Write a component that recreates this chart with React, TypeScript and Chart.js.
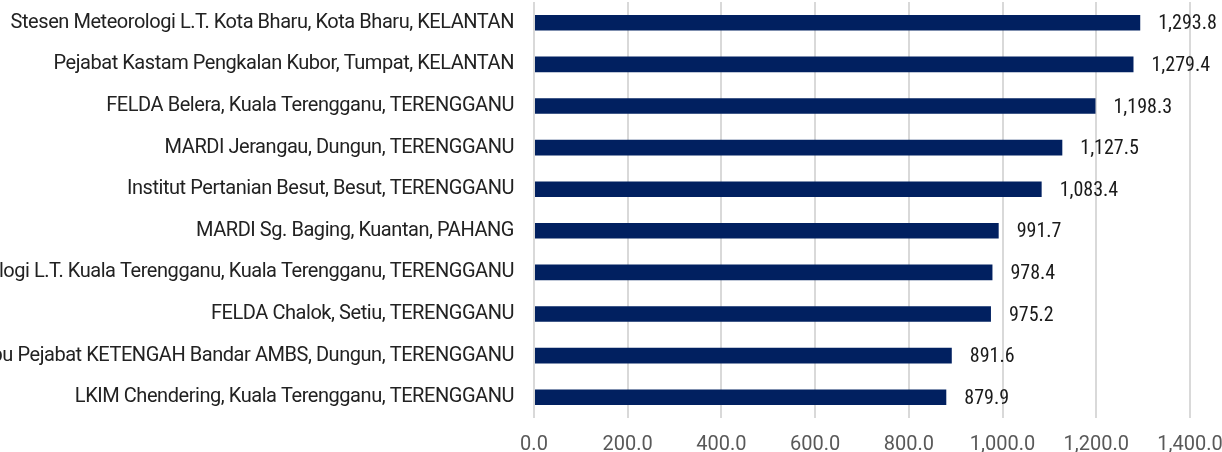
import React, { useEffect, useRef } from "react";
import { Chart, registerables } from "chart.js";

Chart.register(...registerables);

const stations: string[] = [
  "Stesen Meteorologi L.T. Kota Bharu, Kota Bharu, KELANTAN",
  "Pejabat Kastam Pengkalan Kubor, Tumpat, KELANTAN",
  "FELDA Belera, Kuala Terengganu, TERENGGANU",
  "MARDI Jerangau, Dungun, TERENGGANU",
  "Institut Pertanian Besut, Besut, TERENGGANU",
  "MARDI Sg. Baging, Kuantan, PAHANG",
  "Stesen Meteorologi L.T. Kuala Terengganu, Kuala Terengganu, TERENGGANU",
  "FELDA Chalok, Setiu, TERENGGANU",
  "Ibu Pejabat KETENGAH Bandar AMBS, Dungun, TERENGGANU",
  "LKIM Chendering, Kuala Terengganu, TERENGGANU",
];

const rainfall: number[] = [1293.8, 1279.4, 1198.3, 1127.5, 1083.4, 991.7, 978.4, 975.2, 891.6, 879.9];

const xTickValues: number[] = [0, 200, 400, 600, 800, 1000, 1200, 1400];

const FONT_FAMILY = "Roboto, sans-serif";
const STRETCH = "semi-condensed";

const fmt = (v: number) =>
  v.toLocaleString("en-US", { minimumFractionDigits: 1, maximumFractionDigits: 1 });

const valueLabels = {
  id: "valueLabels",
  afterLayout(chart: any) {
    const y = chart.scales.y;
    if (y && !y.__wrapped) {
      const orig = y.drawLabels.bind(y);
      y.drawLabels = (area: any) => {
        const ctx = chart.ctx;
        ctx.save();
        ctx.letterSpacing = "-0.45px";
        orig(area);
        ctx.restore();
      };
      y.__wrapped = true;
    }
  },
  afterDatasetsDraw(chart: any) {
    const ctx = chart.ctx;
    const meta = chart.getDatasetMeta(0);
    ctx.save();
    ctx.font = `${STRETCH} 20px ${FONT_FAMILY}`;
    ctx.fillStyle = "#1a1a1a";
    ctx.textAlign = "left";
    ctx.textBaseline = "middle";
    meta.data.forEach((bar: any, i: number) => {
      ctx.fillText(fmt(rainfall[i]), bar.x + 18, bar.y + 1.5);
    });
    ctx.restore();
  },
};

export default function App() {
  const ref = useRef<HTMLCanvasElement | null>(null);
  useEffect(() => {
    if (!ref.current) return;
    const chart = new Chart(ref.current, {
      type: "bar",
      data: {
        labels: stations,
        datasets: [
          {
            data: rainfall,
            backgroundColor: "#012060",
            borderWidth: 0,
            barPercentage: 0.375,
            categoryPercentage: 1,
          },
        ],
      },
      options: {
        indexAxis: "y",
        animation: false,
        responsive: false,
        maintainAspectRatio: false,
        layout: { padding: { top: 2, right: 32, left: 0, bottom: 0 } },
        plugins: { legend: { display: false }, tooltip: { enabled: false } },
        scales: {
          x: {
            min: 0,
            max: 1400,
            afterBuildTicks: (scale: any) => {
              scale.ticks = xTickValues.map((v) => ({ value: v }));
            },
            afterFit: (scale: any) => {
              scale.height = 34;
              scale.paddingLeft = 0;
              scale.paddingRight = 0;
            },
            grid: { color: "#d9d9d9", lineWidth: 2, drawTicks: false },
            border: { display: false },
            ticks: {
              padding: 15,
              color: "#595959",
              font: { family: FONT_FAMILY, size: 20, style: STRETCH as any },
              callback: (v: any) => fmt(Number(v)),
              maxRotation: 0,
              autoSkip: false,
            },
          },
          y: {
            afterFit: (scale: any) => {
              scale.width = 534;
              scale.paddingTop = 0;
              scale.paddingBottom = 0;
            },
            grid: { display: false, drawTicks: false },
            border: { display: false },
            ticks: {
              padding: 20,
              color: "#222222",
              font: { family: FONT_FAMILY, size: 20, style: STRETCH as any },
              autoSkip: false,
            },
          },
        },
      },
      plugins: [valueLabels],
    });
    return () => chart.destroy();
  }, []);
  return (
    <div style={{ position: "fixed", left: 0, top: 0, width: 1222, height: 452, background: "#fff" }}>
      <canvas ref={ref} width={1222} height={452} style={{ display: "block" }} />
    </div>
  );
}
